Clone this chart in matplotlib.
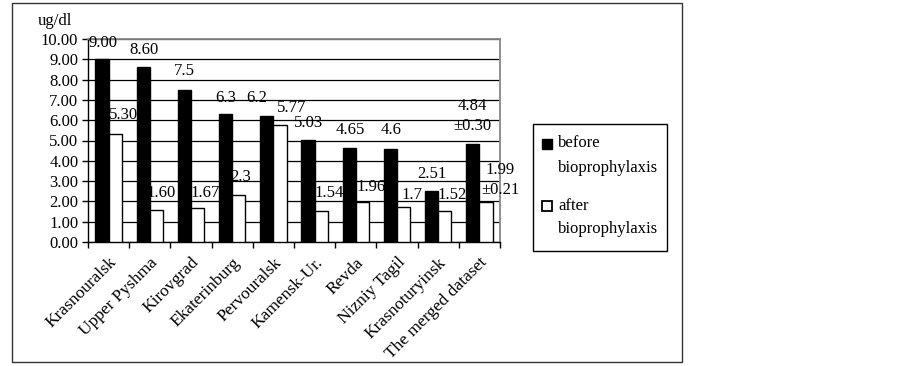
import matplotlib
matplotlib.use("Agg")
import matplotlib.pyplot as plt
from matplotlib.patches import Rectangle
import numpy as np

plt.rcParams['font.family'] = ['Liberation Serif', 'DejaVu Serif']

categories = ["Krasnouralsk", "Upper Pyshma", "Kirovgrad", "Ekaterinburg", "Pervouralsk",
              "Kamensk-Ur.", "Revda", "Nizniy Tagil", "Krasnoturyinsk", "The merged dataset"]
before = [9.00, 8.60, 7.5, 6.3, 6.2, 5.03, 4.65, 4.6, 2.51, 4.84]
after = [5.30, 1.60, 1.67, 2.3, 5.77, 1.54, 1.96, 1.7, 1.52, 1.99]
before_labels = ["9.00", "8.60", "7.5", "6.3", "6.2", "5.03", "4.65", "4.6", "2.51", "4.84\n±0.30"]
after_labels = ["5.30", "1.60", "1.67", "2.3", "5.77", "1.54", "1.96", "1.7", "1.52", "1.99\n±0.21"]
yticks = [0, 1, 2, 3, 4, 5, 6, 7, 8, 9, 10]

# label placement offsets (layout only)
before_dx = [-0.14, -0.14, -0.15, -0.15, -0.40, -0.14, -0.14, -0.15, -0.15, -0.18]
before_dy = [0.80, 0.85, 0.90, 0.80, 0.90, 0.82, 0.85, 0.90, 0.84, 1.36]
after_dx = [0.37, 0.27, 0.34, 0.21, 0.45, 0.35, 0.37, 0.36, 0.33, 0.50]
after_dy = [0.95, 0.80, 0.73, 0.90, 0.83, 0.86, 0.74, 0.60, 0.78, 1.06]

W, H = 902, 366
fig = plt.figure(figsize=(W / 100, H / 100), dpi=100)
ax = fig.add_axes([88 / W, 1 - 242 / H, 412 / W, 203 / H])

x = np.arange(len(categories))
bw = 0.32
ax.bar(x - bw / 2, before, bw, color='black', edgecolor='black', linewidth=1, zorder=3)
ax.bar(x + bw / 2, after, bw, color='white', edgecolor='black', linewidth=1, zorder=3)

fs = 12
for i in range(len(categories)):
    ax.text(x[i] + before_dx[i], before[i] + before_dy[i], before_labels[i], ha='center', va='center',
            fontsize=fs, linespacing=1.3, zorder=5)
    ax.text(x[i] + after_dx[i], after[i] + after_dy[i], after_labels[i], ha='center', va='center',
            fontsize=fs, linespacing=1.3, zorder=5)

ax.set_xlim(-0.5, len(categories) - 0.5)
ax.set_ylim(0, 10)
ax.set_yticks(yticks)
ax.set_yticklabels([f"{v:.2f}" for v in yticks], fontsize=fs)
ax.yaxis.grid(True, color='black', linewidth=0.9)
ax.set_axisbelow(True)

ax.set_xticks(x)
ax.set_xticklabels(categories, rotation=45, ha='right', rotation_mode='anchor', fontsize=12.5)
ax.tick_params(axis='x', which='major', length=0, pad=9)
ax.set_xticks(np.arange(-0.5, len(categories), 1.0), minor=True)
ax.tick_params(axis='x', which='minor', length=4, width=1, direction='out', color='black')
ax.tick_params(axis='y', length=4, width=1, direction='out', pad=3)

for s in ['left', 'bottom']:
    ax.spines[s].set_color('black')
    ax.spines[s].set_linewidth(1)
for s in ['top', 'right']:
    ax.spines[s].set_color('#888888')
    ax.spines[s].set_linewidth(1.3)

fig.text(38 / W, 1 - 21 / H, "ug/dl", fontsize=fs, ha='left', va='center')

# outer frame
fig.patches.append(Rectangle((12 / W, 1 - 362 / H), 670 / W, 359 / H, transform=fig.transFigure,
                             fill=False, edgecolor='#333333', linewidth=1))

# legend box
fig.patches.append(Rectangle((533 / W, 1 - 251 / H), 134 / W, 127 / H, transform=fig.transFigure,
                             fill=False, edgecolor='black', linewidth=1))
fig.patches.append(Rectangle((542 / W, 1 - 149 / H), 10 / W, 10 / H, transform=fig.transFigure,
                             facecolor='black', edgecolor='black', linewidth=1))
fig.patches.append(Rectangle((542 / W, 1 - 211 / H), 10 / W, 10 / H, transform=fig.transFigure,
                             facecolor='white', edgecolor='black', linewidth=1.3))
fig.text(558 / W, 1 - 143 / H, "before", fontsize=fs, va='center', ha='left')
fig.text(558 / W, 1 - 168 / H, "bioprophylaxis", fontsize=fs, va='center', ha='left')
fig.text(558 / W, 1 - 206 / H, "after", fontsize=fs, va='center', ha='left')
fig.text(558 / W, 1 - 229 / H, "bioprophylaxis", fontsize=fs, va='center', ha='left')

fig.savefig("out.png", dpi=100)
